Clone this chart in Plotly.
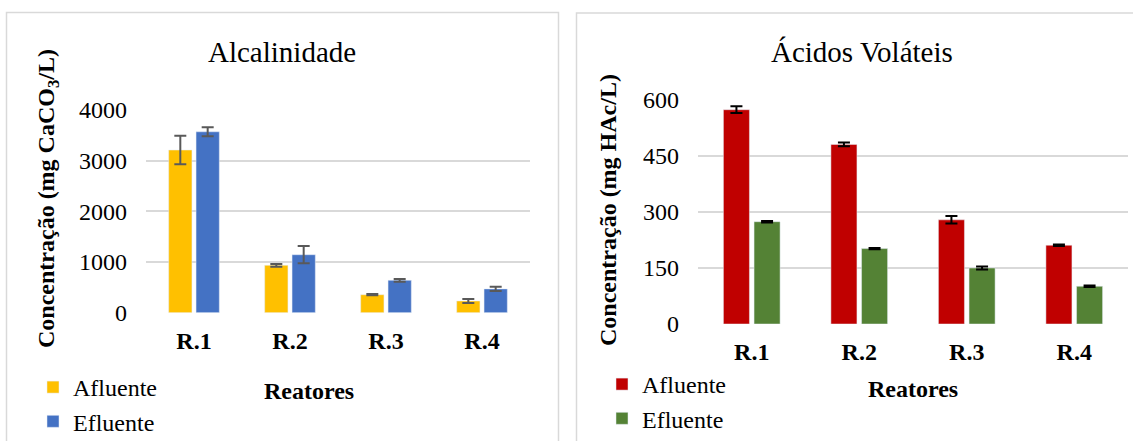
import plotly.graph_objects as go

# Reactor categories
reatores = ["R.1", "R.2", "R.3", "R.4"]

# Alkalinity (mg CaCO3/L): mean and standard deviation
alc_afluente = [3210, 935, 355, 231]
alc_afluente_dp = [280, 27, 12, 38]
alc_efluente = [3570, 1144, 639, 470]
alc_efluente_dp = [90, 170, 28, 40]

# Volatile acids (mg HAc/L): mean and standard deviation
av_afluente = [574, 481, 279, 211]
av_afluente_dp = [9, 5, 10, 2]
av_efluente = [274, 202, 150, 101]
av_efluente_dp = [2, 1.5, 4, 2]

alc_ticks = [0, 1000, 2000, 3000, 4000]
av_ticks = [0, 150, 300, 450, 600]

W, H = 1133, 441
FONT = "Liberation Serif"
FS = 24


def fx(px):
    return px / W


def fy(py):
    return 1 - py / H


fig = go.Figure()

fig.add_trace(go.Bar(
    x=reatores, y=alc_afluente, name="Afluente", marker_color="#FFC000",
    error_y=dict(type="data", array=alc_afluente_dp, color="#595959", thickness=2, width=6),
    xaxis="x", yaxis="y", legend="legend",
))
fig.add_trace(go.Bar(
    x=reatores, y=alc_efluente, name="Efluente", marker_color="#4472C4",
    error_y=dict(type="data", array=alc_efluente_dp, color="#595959", thickness=2, width=6),
    xaxis="x", yaxis="y", legend="legend",
))
fig.add_trace(go.Bar(
    x=reatores, y=av_afluente, name="Afluente", marker_color="#C00000",
    error_y=dict(type="data", array=av_afluente_dp, color="#000000", thickness=2, width=6),
    xaxis="x2", yaxis="y2", legend="legend2",
))
fig.add_trace(go.Bar(
    x=reatores, y=av_efluente, name="Efluente", marker_color="#548235",
    error_y=dict(type="data", array=av_efluente_dp, color="#000000", thickness=2, width=6),
    xaxis="x2", yaxis="y2", legend="legend2",
))

tick_font = dict(family=FONT, size=FS, color="#000000")
xtick_font = dict(family=FONT, size=FS, color="#000000", weight="bold")

common_x = dict(showgrid=False, zeroline=False, showline=False, ticks="",
                tickfont=xtick_font, ticklabelstandoff=11, fixedrange=True)
common_y = dict(showgrid=True, gridcolor="#D9D9D9", gridwidth=1.5, zeroline=False,
                showline=False, ticks="", tickfont=tick_font, ticklabelstandoff=18,
                fixedrange=True)

legend_font = dict(family=FONT, size=FS, color="#000000")

fig.update_layout(
    width=W, height=H,
    margin=dict(l=0, r=0, t=0, b=0, pad=0, autoexpand=False),
    paper_bgcolor="white", plot_bgcolor="white",
    barmode="group", bargap=0.43, bargroupgap=0.15,
    font=dict(family=FONT, color="#000000"),
    xaxis=dict(domain=[fx(146), fx(530)], anchor="y", **common_x),
    yaxis=dict(domain=[fy(312.7), fy(110)], anchor="x", range=[0, 4000],
               tickvals=alc_ticks, **common_y),
    xaxis2=dict(domain=[fx(698), fx(1128)], anchor="y2", **common_x),
    yaxis2=dict(domain=[fy(324), fy(100)], anchor="x2", range=[0, 600],
                tickvals=av_ticks, **common_y),
    legend=dict(x=fx(33), y=fy(365), xanchor="left", yanchor="top",
                font=legend_font, bgcolor="rgba(0,0,0,0)",
                itemclick=False, itemdoubleclick=False),
    legend2=dict(x=fx(602), y=fy(362), xanchor="left", yanchor="top",
                 font=legend_font, bgcolor="rgba(0,0,0,0)",
                 itemclick=False, itemdoubleclick=False),
    showlegend=True,
)

# Chart area frames
fig.add_shape(type="rect", xref="paper", yref="paper",
              x0=fx(6.5), x1=fx(558.5), y0=fy(460), y1=fy(12.5),
              line=dict(color="#D9D9D9", width=1.5), fillcolor="rgba(0,0,0,0)")
fig.add_shape(type="rect", xref="paper", yref="paper",
              x0=fx(576.5), x1=fx(1160), y0=fy(460), y1=fy(13),
              line=dict(color="#D9D9D9", width=1.5), fillcolor="rgba(0,0,0,0)")

# Chart titles
fig.add_annotation(text="Alcalinidade", xref="paper", yref="paper",
                   x=fx(282), y=fy(52), xanchor="center", yanchor="middle",
                   showarrow=False, font=dict(family=FONT, size=29, color="#000000"))
fig.add_annotation(text="Ácidos Voláteis", xref="paper", yref="paper",
                   x=fx(862), y=fy(52), xanchor="center", yanchor="middle",
                   showarrow=False, font=dict(family=FONT, size=29, color="#000000"))

# Axis titles
fig.add_annotation(text="<b>Concentração (mg CaCO<sub>3</sub>/L)</b>", xref="paper", yref="paper",
                   x=fx(47.5), y=fy(198.5), xanchor="center", yanchor="middle",
                   textangle=-90, showarrow=False,
                   font=dict(family=FONT, size=FS, color="#000000"))
fig.add_annotation(text="<b>Concentração (mg HAc/L)</b>", xref="paper", yref="paper",
                   x=fx(608), y=fy(210), xanchor="center", yanchor="middle",
                   textangle=-90, showarrow=False,
                   font=dict(family=FONT, size=FS, color="#000000"))
fig.add_annotation(text="<b>Reatores</b>", xref="paper", yref="paper",
                   x=fx(308.5), y=fy(391), xanchor="center", yanchor="middle",
                   showarrow=False, font=dict(family=FONT, size=FS, color="#000000"))
fig.add_annotation(text="<b>Reatores</b>", xref="paper", yref="paper",
                   x=fx(913), y=fy(388.5), xanchor="center", yanchor="middle",
                   showarrow=False, font=dict(family=FONT, size=FS, color="#000000"))

fig.write_html("out.html", config=dict(displayModeBar=False),
               post_script="document.body.style.margin='0px';")
